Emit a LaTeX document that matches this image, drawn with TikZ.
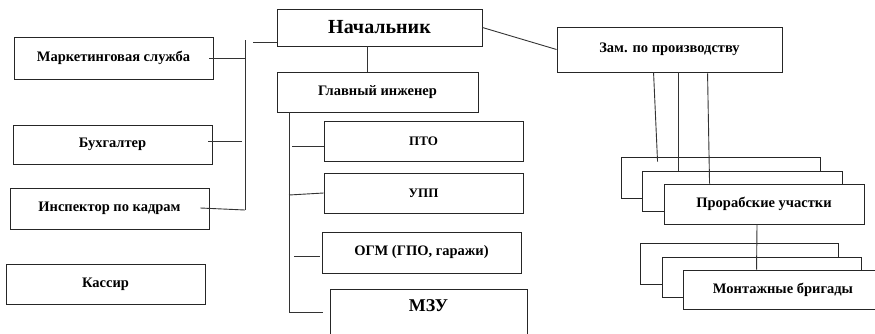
\documentclass[tikz,border=0pt]{standalone}
\usepackage{fontspec}
\setmainfont{Liberation Serif}
\usetikzlibrary{calc}
\tikzset{
  unit/.style={draw=black!85, line width=0.9pt, fill=white, inner sep=2pt,
    minimum width=199pt, minimum height=40pt,
    font=\bfseries\fontsize{14.5}{16}\selectfont},
  link/.style={draw=black!80, line width=0.9pt}
}
\begin{document}
\begin{tikzpicture}[x=1pt,y=-1pt]
      \useasboundingbox (0,0) rectangle (875,333);
      \clip (0,0) rectangle (875,333);

      % HEAD
      \node[unit, minimum width=205pt, minimum height=37pt,
            font=\bfseries\fontsize{20}{22}\selectfont] (nach) at (379.5,27.5) {Начальник};
      \node[unit, minimum width=201pt] (eng) at (377.5,92) {Главный инженер};
      \node[unit, minimum width=225pt, minimum height=45pt] (zam) at (669.5,49.5) {Зам. по производству};

      % LEFT COLUMN
      \node[unit, minimum height=42pt] (mark) at (113.5,58) {Маркетинговая служба};
      \node[unit, minimum height=39pt] (buh) at (112.5,144.5) {Бухгалтер};
      \node[unit, minimum height=41pt] (insp) at (109.5,208.5) {Инспектор по кадрам};
      \node[unit] (kass) at (105.5,284) {Кассир};

      % DEPARTMENTS
      \node[unit, font=\bfseries\fontsize{13}{15}\selectfont] (pto) at (423.5,141) {ПТО};
      \node[unit, font=\bfseries\fontsize{13}{15}\selectfont] (upp) at (423.5,193) {УПП};
      \node[unit, minimum height=41pt] (ogm) at (421.5,252.5) {ОГМ (ГПО, гаражи)};
      \node[unit, minimum width=197pt, minimum height=46pt, text depth=12pt,
            font=\bfseries\fontsize{18}{20}\selectfont] (mzu) at (428.5,312) {МЗУ};

      % SITES (stacked)
      \node[unit, minimum height=41pt] (pr1) at (720.5,177.5) {};
      \node[unit, minimum width=200pt] (pr2) at (742,191) {};
      \node[unit, minimum width=200pt] (pr3) at (764,204) {Прорабские участки};

      % CREWS (stacked)
      \node[unit, minimum width=198pt, minimum height=41pt] (mb1) at (739,263.5) {};
      \node[unit] (mb2) at (761.5,277) {};
      \node[unit, minimum width=200pt, minimum height=39pt] (mb3) at (783,289.5) {Монтажные бригады};

      % BUSES
      \coordinate (lb1) at (245,40);
      \coordinate (lb2) at (245,210);
      \coordinate (lbt) at (253,42);
      \coordinate (eb1) at (289,112);
      \coordinate (eb2) at (289,312);
      \coordinate (ebe) at (323,312);

      % LINES
      \draw[link] ($(nach.south)+(-12.5,0)$) -- ($(eng.north)+(-10.5,0)$);
      \draw[link] (nach.east) -- (zam.west);

      \draw[link] (lb1) -- (lb2);
      \draw[link] (lbt) -- (lbt -| nach.west);
      \draw[link] ([xshift=-4pt]mark.east) -- (mark.east -| lb1);
      \draw[link] ([xshift=-4pt,yshift=3.5pt]buh.east) -- ([xshift=-3pt]lb1 |- 0,141);
      \draw[link] ([xshift=-9pt,yshift=0.5pt]insp.east) -- (lb2);

      \draw[link] (eb1) -- (eb2) -- (ebe);
      \draw[link] ([yshift=-5pt]pto.west) -- ([xshift=3pt,yshift=-5pt]pto.west -| eb1);
      \draw[link] (upp.west) -- ([yshift=-2pt]upp.west -| eb1);
      \draw[link] ([xshift=-2pt,yshift=-3.5pt]ogm.west) -- ([xshift=5pt,yshift=-3.5pt]ogm.west -| eb1);

      \draw[link] ($(zam.south west)+(97,0)$) -- ($(pr1.north west)+(37,5)$);
      \draw[link] ($(zam.south west)+(122,0)$) -- ($(pr2.north west)+(37,0)$);
      \draw[link] ($(zam.south west)+(151,1)$) -- ($(pr3.north west)+(46,0)$);
      \draw[link] ($(pr3.south)+(-7,0)$) -- ($(mb3.north west)+(74,0)$);
\end{tikzpicture}
\end{document}
